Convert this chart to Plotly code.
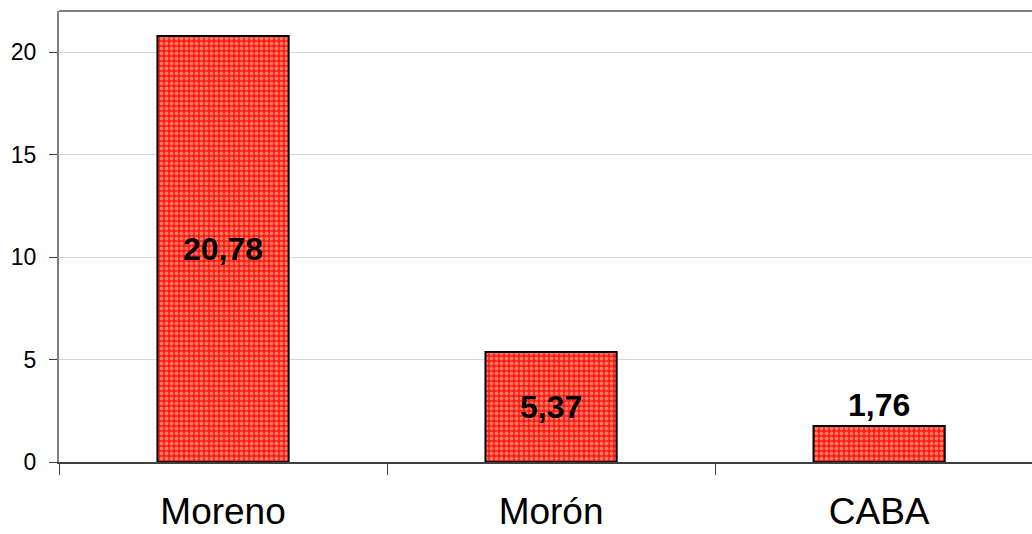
import plotly.graph_objects as go

categories = ["Moreno", "Morón", "CABA"]
values = [20.78, 5.37, 1.76]
labels = [f"{v:.2f}".replace(".", ",") for v in values]
text_positions = ["inside", "inside", "outside"]
y_ticks = [0, 5, 10, 15, 20]

FONT = "Arial, 'Liberation Sans', sans-serif"

fig = go.Figure()
fig.add_trace(go.Bar(
    x=categories,
    y=values,
    width=0.4,
    text=labels,
    textposition=text_positions,
    insidetextanchor="middle",
    textangle=0,
    cliponaxis=False,
    constraintext="none",
    textfont=dict(family=FONT, size=32, color="black", weight="bold"),
    marker=dict(
        color="#ff1a10",
        line=dict(color="black", width=2),
        pattern=dict(shape=".", fgcolor="#ffd4b8", size=5, solidity=0.45, fillmode="overlay"),
    ),
    hoverinfo="skip",
))

fig.update_layout(
    width=1032,
    height=534,
    margin=dict(l=59, r=0, t=11, b=72, autoexpand=False),
    plot_bgcolor="white",
    paper_bgcolor="white",
    showlegend=False,
    bargap=0.6,
    font=dict(family=FONT, color="black"),
    shapes=[dict(type="line", xref="paper", yref="paper", x0=0, x1=1, y0=1, y1=1,
                 line=dict(color="#808080", width=2))],
)

fig.update_xaxes(
    range=[-0.5, 2.466],
    automargin=False,
    showline=True,
    linecolor="#404040",
    linewidth=2,
    ticks="outside",
    tickson="boundaries",
    ticklen=11,
    tickwidth=1,
    tickcolor="#404040",
    tickfont=dict(family=FONT, size=37, color="black"),
    ticklabelstandoff=16,
    showgrid=False,
)

fig.update_yaxes(
    range=[0, 22],
    automargin=False,
    tickvals=y_ticks,
    showline=True,
    linecolor="#808080",
    linewidth=2,
    ticks="outside",
    ticklen=8,
    tickwidth=1,
    tickcolor="#404040",
    tickfont=dict(family=FONT, size=23, color="black"),
    ticklabelstandoff=8,
    showgrid=True,
    gridcolor="#d8d8d8",
    gridwidth=1,
    zeroline=False,
)

fig.write_html(
    "out.html",
    config={"displayModeBar": False},
    post_script="document.body.style.margin='0';document.body.style.overflow='hidden';",
)
